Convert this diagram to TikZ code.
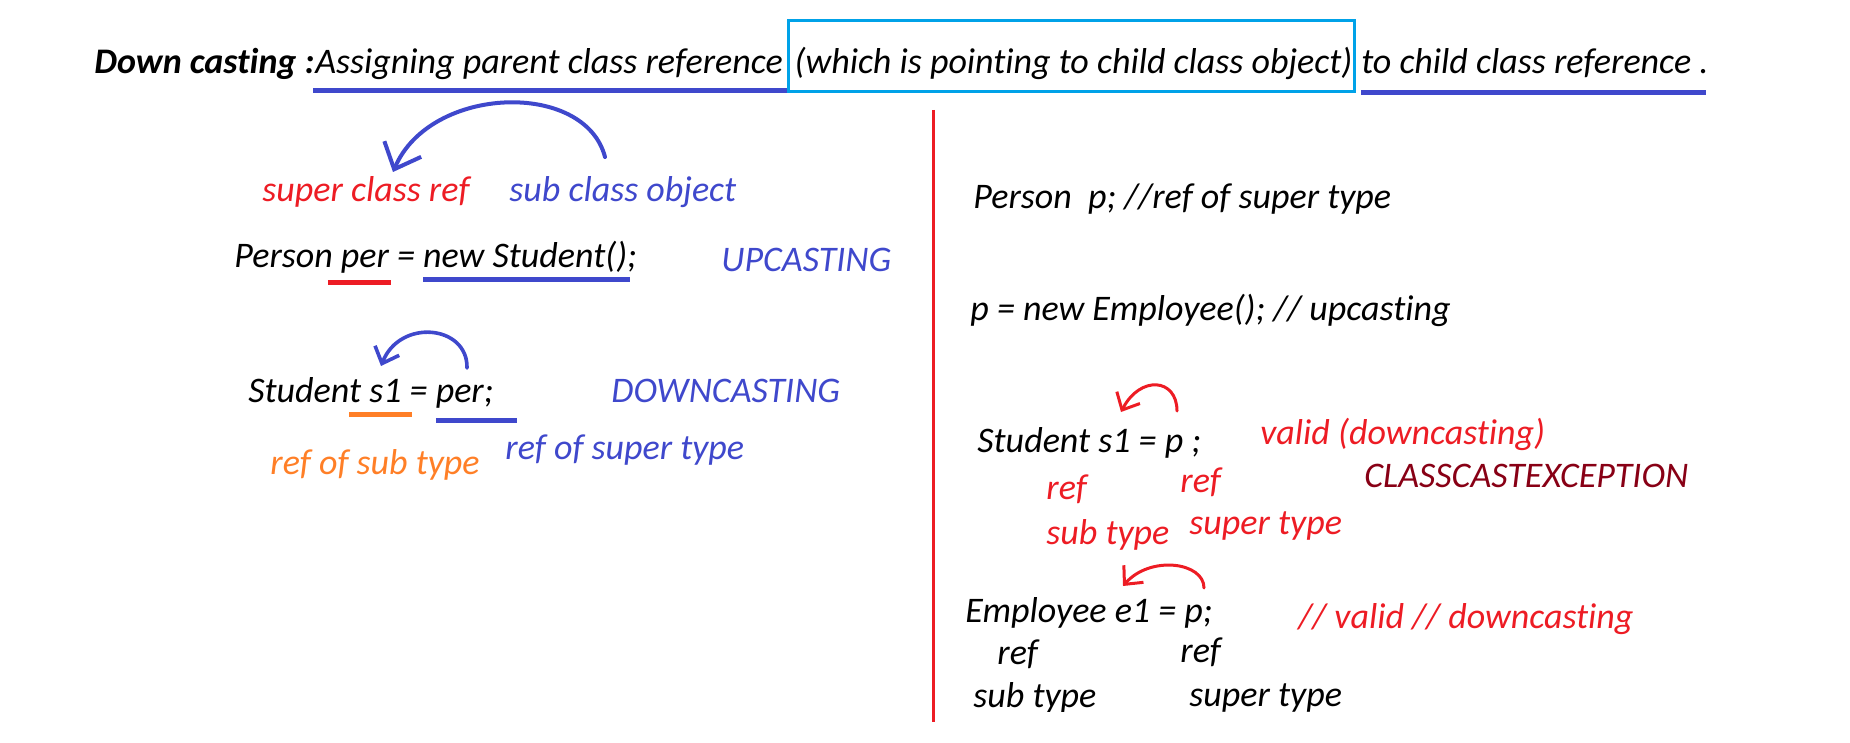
\documentclass[tikz,border=0pt]{standalone}
\usepackage{fontspec}
\setmainfont{Carlito}[Ligatures=NoCommon]
\usetikzlibrary{arrows.meta,positioning,calc}
\definecolor{paintred}{HTML}{ED1C24}
\definecolor{indigo}{HTML}{3F48CC}
\definecolor{orng}{HTML}{FF7F27}
\definecolor{sky}{HTML}{00A2E8}
\definecolor{maroon}{HTML}{880015}

\begin{document}
\begin{tikzpicture}[x=0.5pt,y=-0.5pt,
  txt/.style={inner sep=0pt,anchor=base west,font=\fontsize{18}{21}\selectfont\itshape},
  head/.style={inner sep=0pt,anchor=base west,font=\fontsize{18}{21}\selectfont\itshape},
  hand/.style={line width=1.5pt,line cap=round},
  bigbarb/.style={-{Straight Barb[length=11pt,width=20pt]}},
  smallbarb/.style={-{Straight Barb[length=7pt,width=13pt]}}]
\useasboundingbox (0,0) rectangle (1850,743);
% --- helper: text with a coloured stroke under it ---------------------
% #1 colour, #2 depth, #3/#4 overhang left/right, #5 text
\def\uln#1#2#3#4#5{\setbox0\hbox{#5}\rlap{\kern-#3\color{#1}\rule[-#2]{\dimexpr\wd0+#3+#4\relax}{2.4pt}}\box0\relax}
% --- heading -----------------------------------------------------------
\node[head,font=\fontsize{18}{21}\selectfont\bfseries\itshape] (hdown) at (94,74) {Down casting :};
\node[head] (hassign) at (hdown.base east) {\uln{indigo}{9.5pt}{1pt}{2.5pt}{Assigning parent class reference}};
\node[head] (hwhich) at ($(hassign.base east)+(11,0)$) {(which is pointing to child class object)};
\node[head] (hto) at ($(hwhich.base east)+(8,0)$) {\uln{indigo}{10.5pt}{0pt}{-1pt}{to child class reference .}};
\draw[sky,line width=1.5pt] ($(hwhich.base west)+(-6,-53)$) rectangle ($(hwhich.base east)+(2,18)$);
% divider
\draw[paintred,line width=1.5pt] (933,110) -- (933,722);
% --- left: upcasting then downcasting ----------------------------------
\node[txt,paintred] (lsuper) at (262,202) {super class ref};
\node[txt,indigo] (lsub) at (509,202) {sub class object};
\node[txt] (lperson) at (234,267) {Person \uln{paintred}{9pt}{6.5pt}{1pt}{per} = \uln{indigo}{7.5pt}{0pt}{-3.5pt}{new Student();}};
\node[txt,indigo] (lup) at (721,271) {UPCASTING};
\node[txt] (lstud) at (248,402) {Student \uln{orng}{7.5pt}{10pt}{5pt}{s1} = \uln{indigo}{10.5pt}{0pt}{12pt}{per;}};
\node[txt,indigo] (ldown) at (611,402) {DOWNCASTING};
\node[txt,indigo] (lrefsup) at (505,459) {ref of super type};
\node[txt,orng] (lrefsub) at (270,474) {ref of sub type};
\coordinate (bigS) at (605,157);
\coordinate (bigE) at (393,172);
\draw[hand,bigbarb,indigo,line width=2pt] (bigS) .. controls (585,80) and (430,85) .. (bigE);
\coordinate (smS) at (467,368);
\coordinate (smE) at (381,366);
\draw[hand,smallbarb,indigo,line width=1.8pt] (smS) .. controls (468,325) and (400,318) .. (smE);
% --- right: Person p -----------------------------------------------------
\node[txt] (rperson) at (973,209) {Person\ \ p; //ref of super type};
\node[txt] (rnew) at (970,320) {p = new Employee(); // upcasting};
\node[txt] (rstud) at (977,452) {Student s1 = p ;};
\node[txt,paintred] (rvalid) at (1260,444) {valid (downcasting)};
\node[txt,maroon] (rcce) at (1364,487) {CLASSCASTEXCEPTION};
\node[txt,paintred] (rrefa) at (1046,499) {ref};
\node[txt,paintred] (rrefb) at (1180,492) {ref};
\node[txt,paintred] (rsuba) at (1046,544) {sub type};
\node[txt,paintred] (rsupa) at (1189,534) {super type};
\coordinate (redaS) at (1177,411);
\coordinate (redaE) at (1121,412);
\draw[hand,smallbarb,paintred] (redaS) .. controls (1177,378) and (1140,375) .. (redaE);
\node[txt] (remp) at (965,622) {Employee e1 = p;};
\node[txt,paintred] (rvalidb) at (1298,628) {// valid // downcasting};
\node[txt] (rrefc) at (997,664) {ref};
\node[txt] (rrefd) at (1180,662) {ref};
\begin{scope}
\clip (950,640) rectangle (1120,711);
\node[txt] (rsubb) at (973,707) {sub type};
\end{scope}
\node[txt] (rsupb) at (1189,706) {super type};
\coordinate (redbS) at (1204,588);
\coordinate (redbE) at (1123,586);
\draw[hand,smallbarb,paintred] (redbS) .. controls (1204,562) and (1150,555) .. (redbE);
\end{tikzpicture}
\end{document}
